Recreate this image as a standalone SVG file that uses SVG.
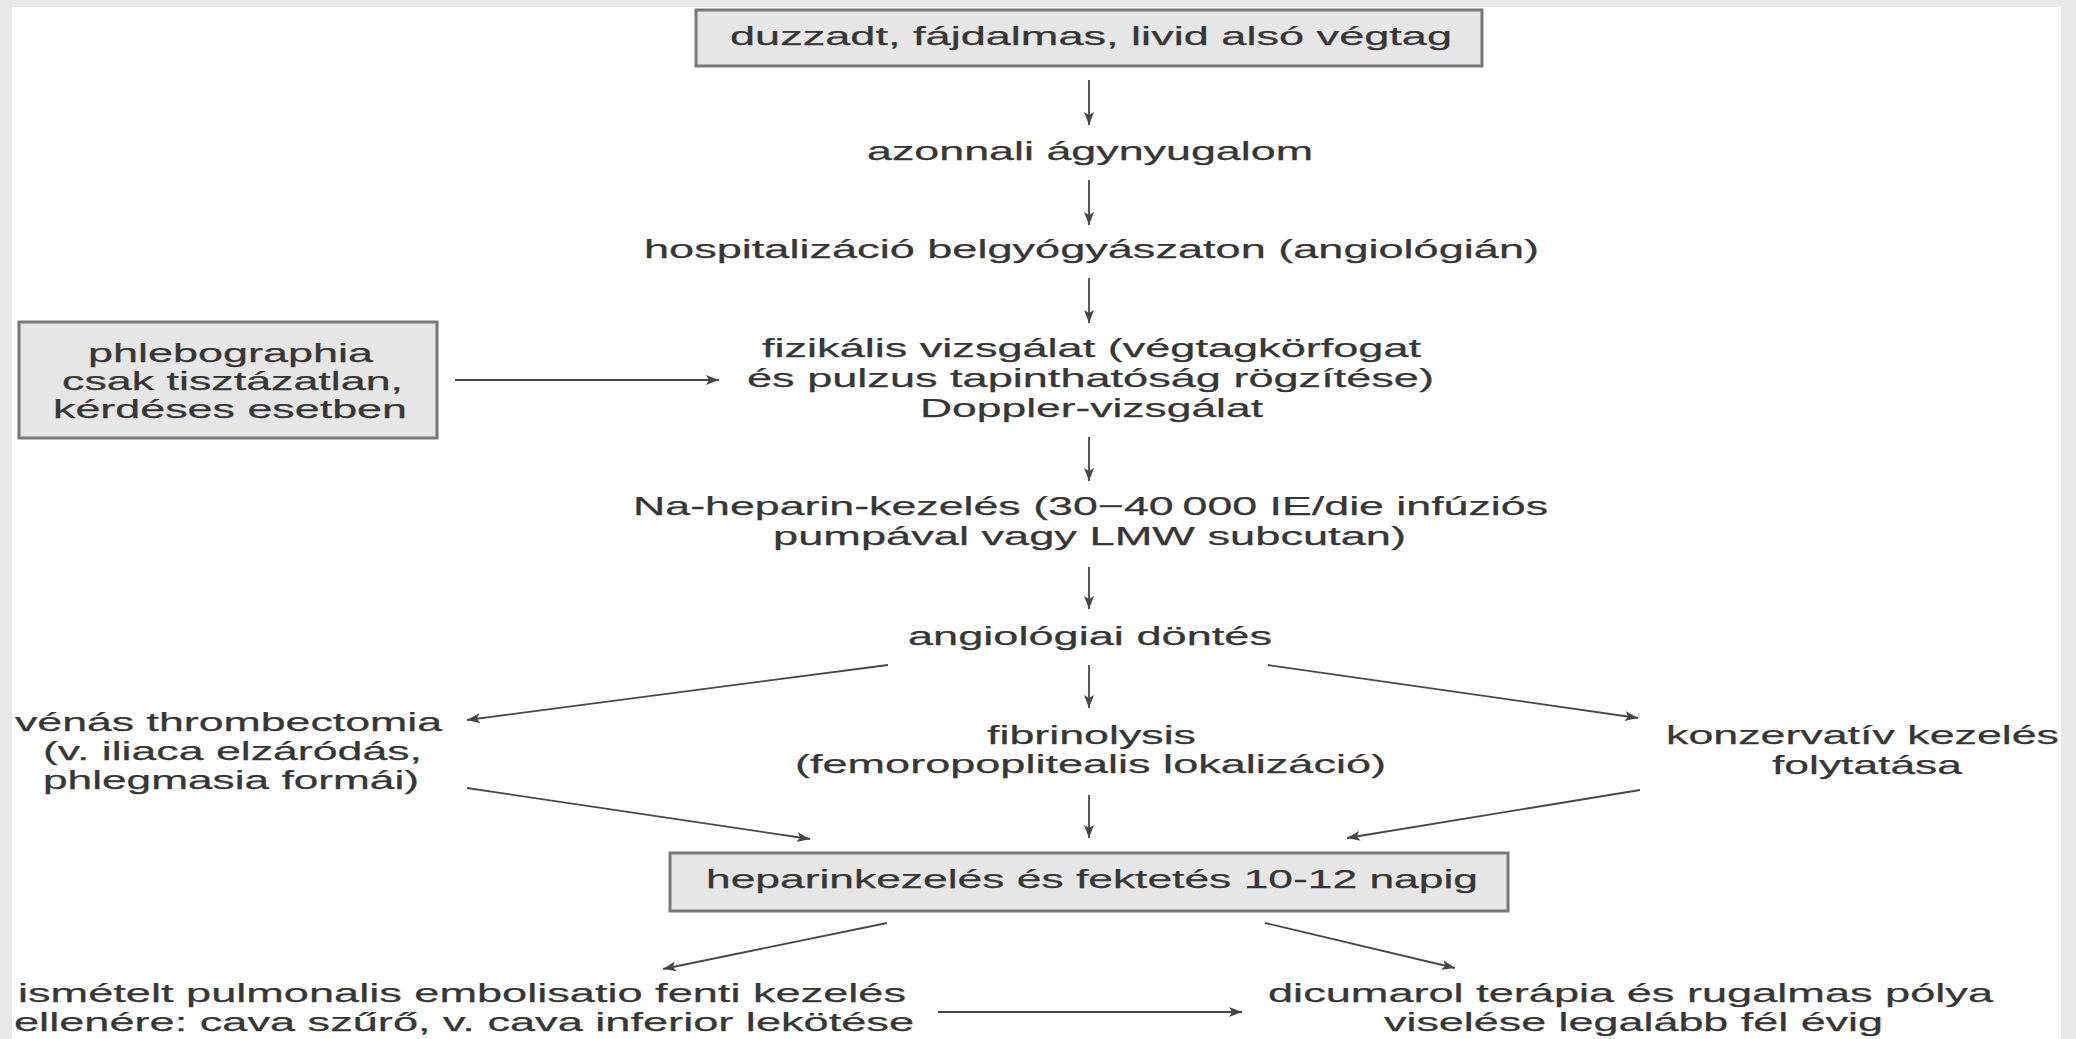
<svg xmlns="http://www.w3.org/2000/svg" width="2076" height="1039" viewBox="0 0 2076 1039">
<style>
.t{font-family:"Liberation Sans",Arial,Helvetica,sans-serif;font-size:26px;fill:#363636;stroke:#363636;stroke-width:0.25;text-anchor:middle}
.box{fill:#e6e6e6;stroke:#787878;stroke-width:3}
.c{stroke:#474747;stroke-width:1.8;fill:none;marker-end:url(#ah)}
</style>
<defs>
<marker id="ah" markerUnits="userSpaceOnUse" markerWidth="16" markerHeight="12" refX="13" refY="6" orient="auto">
<path d="M0,1 L13,6 L0,11 L3,6 Z" fill="#474747"/>
</marker>
</defs>
<rect x="0" y="0" width="2076" height="1039" fill="#e8e8e8"/>
<rect x="12" y="7" width="2049" height="1032" fill="#ffffff"/>

<g id="connectors">
<line class="c" x1="1089" y1="80" x2="1089" y2="125"/>
<line class="c" x1="1089" y1="180" x2="1089" y2="225"/>
<line class="c" x1="1089" y1="278" x2="1089" y2="323"/>
<line class="c" x1="455" y1="380" x2="719" y2="380"/>
<line class="c" x1="1089" y1="437" x2="1089" y2="481"/>
<line class="c" x1="1089" y1="567" x2="1089" y2="609"/>
<line class="c" x1="888" y1="665" x2="467" y2="720"/>
<line class="c" x1="1089" y1="665" x2="1089" y2="708"/>
<line class="c" x1="1268" y1="665" x2="1638" y2="718"/>
<line class="c" x1="467" y1="788" x2="810" y2="839"/>
<line class="c" x1="1089" y1="795" x2="1089" y2="838"/>
<line class="c" x1="1640" y1="790" x2="1347" y2="838"/>
<line class="c" x1="887" y1="923" x2="663" y2="969"/>
<line class="c" x1="1265" y1="923" x2="1455" y2="968"/>
<line class="c" x1="938" y1="1012" x2="1242" y2="1012"/>
</g>

<g id="n-start">
<rect class="box" x="696" y="10" width="786" height="56"/>
<text class="t" x="1091" y="45" textLength="722" lengthAdjust="spacingAndGlyphs">duzzadt, fájdalmas, livid alsó végtag</text>
</g>
<g id="n-agynyugalom">
<text class="t" x="1090" y="160" textLength="446" lengthAdjust="spacingAndGlyphs">azonnali ágynyugalom</text>
</g>
<g id="n-hospitalizacio">
<text class="t" x="1091.5" y="258" textLength="895" lengthAdjust="spacingAndGlyphs">hospitalizáció belgyógyászaton (angiológián)</text>
</g>
<g id="n-phlebographia">
<rect class="box" x="19" y="322" width="418" height="116"/>
<text class="t" x="230.5" y="362" textLength="285" lengthAdjust="spacingAndGlyphs">phlebographia</text>
<text class="t" x="232.5" y="390" textLength="341" lengthAdjust="spacingAndGlyphs">csak tisztázatlan,</text>
<text class="t" x="230" y="418" textLength="354" lengthAdjust="spacingAndGlyphs">kérdéses esetben</text>
</g>
<g id="n-fizikalis">
<text class="t" x="1091.5" y="357" textLength="659" lengthAdjust="spacingAndGlyphs">fizikális vizsgálat (végtagkörfogat</text>
<text class="t" x="1090.5" y="387" textLength="687" lengthAdjust="spacingAndGlyphs">és pulzus tapinthatóság rögzítése)</text>
<text class="t" x="1091.5" y="417" textLength="343" lengthAdjust="spacingAndGlyphs">Doppler-vizsgálat</text>
</g>
<g id="n-heparin">
<text class="t" x="1090.5" y="515" textLength="915" lengthAdjust="spacingAndGlyphs">Na-heparin-kezelés (30−40&#8201;000 IE/die infúziós</text>
<text class="t" x="1089.5" y="545" textLength="633" lengthAdjust="spacingAndGlyphs">pumpával vagy LMW subcutan)</text>
</g>
<g id="n-dontes">
<text class="t" x="1090" y="645" textLength="364" lengthAdjust="spacingAndGlyphs">angiológiai döntés</text>
</g>
<g id="n-thrombectomia">
<text class="t" x="228.5" y="731" textLength="427" lengthAdjust="spacingAndGlyphs">vénás thrombectomia</text>
<text class="t" x="232.5" y="760" textLength="379" lengthAdjust="spacingAndGlyphs">(v. iliaca elzáródás,</text>
<text class="t" x="231" y="789" textLength="376" lengthAdjust="spacingAndGlyphs">phlegmasia formái)</text>
</g>
<g id="n-fibrinolysis">
<text class="t" x="1091.5" y="744" textLength="209" lengthAdjust="spacingAndGlyphs">fibrinolysis</text>
<text class="t" x="1090.5" y="773" textLength="591" lengthAdjust="spacingAndGlyphs">(femoropoplitealis lokalizáció)</text>
</g>
<g id="n-konzervativ">
<text class="t" x="1862.5" y="744" textLength="393" lengthAdjust="spacingAndGlyphs">konzervatív kezelés</text>
<text class="t" x="1867" y="774" textLength="190" lengthAdjust="spacingAndGlyphs">folytatása</text>
</g>
<g id="n-fektetes">
<rect class="box" x="670" y="853" width="838" height="58"/>
<text class="t" x="1092" y="888" textLength="772" lengthAdjust="spacingAndGlyphs">heparinkezelés és fektetés 10-12 napig</text>
</g>
<g id="n-embolisatio">
<text class="t" x="462" y="1002" textLength="888" lengthAdjust="spacingAndGlyphs">ismételt pulmonalis embolisatio fenti kezelés</text>
<text class="t" x="464" y="1031" textLength="900" lengthAdjust="spacingAndGlyphs">ellenére: cava szűrő, v. cava inferior lekötése</text>
</g>
<g id="n-dicumarol">
<text class="t" x="1630.5" y="1002" textLength="725" lengthAdjust="spacingAndGlyphs">dicumarol terápia és rugalmas pólya</text>
<text class="t" x="1633.5" y="1031" textLength="499" lengthAdjust="spacingAndGlyphs">viselése legalább fél évig</text>
</g>
</svg>
